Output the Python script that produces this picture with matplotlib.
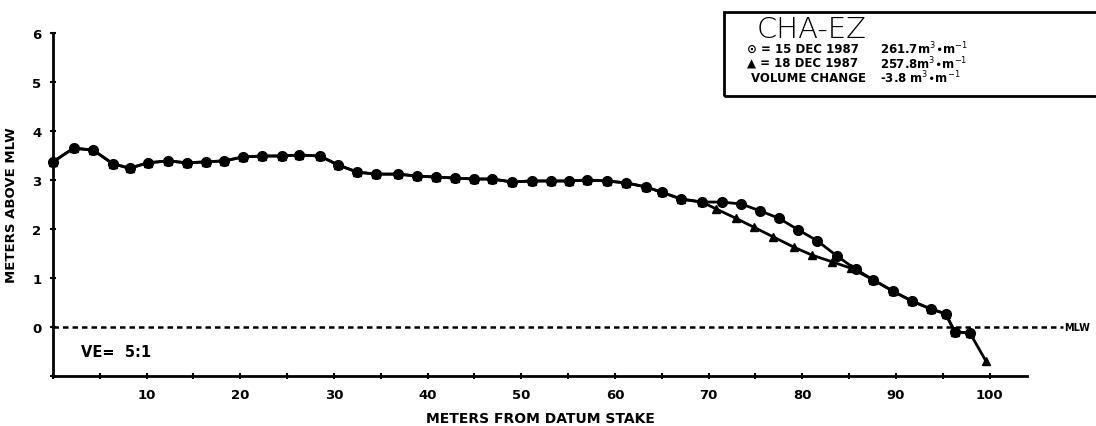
import matplotlib
matplotlib.use("Agg")
import matplotlib.pyplot as plt
from matplotlib.ticker import MultipleLocator
from matplotlib.patches import Rectangle

# Beach profile CHA-EZ, survey of 15 DEC 1987 (circles)
dist_15 = [0.0, 2.2, 4.3, 6.4, 8.2, 10.1, 12.3, 14.3, 16.3, 18.3, 20.3, 22.3,
           24.4, 26.3, 28.5, 30.4, 32.5, 34.5, 36.8, 38.9, 40.9, 42.9, 45.0,
           46.9, 49.0, 51.1, 53.2, 55.1, 57.0, 59.2, 61.2, 63.3, 65.0, 67.1,
           69.3, 71.4, 73.5, 75.5, 77.5, 79.6, 81.6, 83.7, 85.7, 87.6, 89.7,
           91.7, 93.7, 95.3, 96.3, 97.9]
elev_15 = [3.37, 3.65, 3.61, 3.33, 3.24, 3.35, 3.39, 3.35, 3.37, 3.39, 3.47,
           3.49, 3.49, 3.51, 3.49, 3.31, 3.16, 3.12, 3.12, 3.08, 3.06, 3.04,
           3.02, 3.02, 2.96, 2.98, 2.98, 2.98, 3.00, 2.98, 2.94, 2.86, 2.75,
           2.61, 2.55, 2.55, 2.51, 2.37, 2.22, 1.98, 1.76, 1.45, 1.18, 0.96,
           0.73, 0.53, 0.37, 0.27, -0.10, -0.12]

# Survey of 18 DEC 1987 (triangles)
dist_18 = [0.0, 2.2, 4.3, 6.4, 8.2, 10.1, 12.3, 14.3, 16.3, 18.3, 20.3, 22.3,
           24.4, 26.3, 28.5, 30.4, 32.5, 34.5, 36.8, 38.9, 40.9, 42.9, 45.0,
           46.9, 49.0, 51.1, 53.2, 55.1, 57.0, 59.2, 61.2, 63.3, 65.0, 67.1,
           69.3, 70.8, 72.9, 74.8, 76.9, 79.1, 81.0, 83.2, 85.2, 87.6, 89.7,
           91.7, 93.7, 95.3, 96.3, 97.9, 99.6]
elev_18 = [3.37, 3.65, 3.61, 3.33, 3.24, 3.35, 3.39, 3.35, 3.37, 3.39, 3.47,
           3.49, 3.49, 3.51, 3.49, 3.31, 3.16, 3.12, 3.12, 3.08, 3.06, 3.04,
           3.02, 3.02, 2.96, 2.98, 2.98, 2.98, 3.00, 2.98, 2.94, 2.86, 2.75,
           2.61, 2.55, 2.41, 2.22, 2.04, 1.84, 1.63, 1.47, 1.33, 1.20, 0.96,
           0.73, 0.53, 0.37, 0.27, -0.10, -0.12, -0.69]

x_ticks = [10, 20, 30, 40, 50, 60, 70, 80, 90, 100]
y_ticks = [0, 1, 2, 3, 4, 5, 6]

title = "CHA-EZ"
legend_rows = [
    ("\u2299 = 15 DEC 1987", r"261.7m$^{3}$$\bullet$m$^{-1}$"),
    ("\u25B2 = 18 DEC 1987", r"257.8m$^{3}$$\bullet$m$^{-1}$"),
    ("VOLUME CHANGE", r"-3.8 m$^{3}$$\bullet$m$^{-1}$"),
]

bold = dict(family="DejaVu Sans", fontweight="bold")

fig = plt.figure(figsize=(10.96, 4.27), dpi=100)
ax = fig.add_axes([53 / 1096, 1 - 377 / 427, (1027 - 53) / 1096, (377 - 34) / 427])

ax.set_xlim(0, 104)
ax.set_ylim(-1, 6)

# mean low water reference line, running past the frame to its label
ax.plot([0, 107.8], [0, 0], color="black", lw=1.8, ls=(0, (2.2, 1.6)),
        clip_on=False, zorder=2)
ax.text(108.0, 0, "MLW", ha="left", va="center", fontsize=7, clip_on=False, **bold)

ax.plot(dist_18, elev_18, color="black", lw=2.0, marker="^", ms=6,
        markerfacecolor="black", clip_on=False, zorder=3)
ax.plot(dist_15, elev_15, color="black", lw=2.0, marker="o", ms=7,
        markerfacecolor="black", clip_on=False, zorder=4)

for side in ("top", "right"):
    ax.spines[side].set_visible(False)
for side in ("left", "bottom"):
    ax.spines[side].set_linewidth(2.0)

ax.set_xticks(x_ticks)
ax.set_yticks(y_ticks)
ax.xaxis.set_minor_locator(MultipleLocator(5))
ax.yaxis.set_minor_locator(MultipleLocator(1))
ax.tick_params(axis="both", which="both", direction="inout", length=5, width=1.5,
               labelsize=9.5, pad=6)
for lab in ax.get_xticklabels() + ax.get_yticklabels():
    lab.set_fontweight("bold")

ax.set_xlabel("METERS FROM DATUM STAKE", fontsize=10, labelpad=7, **bold)
ax.set_ylabel("METERS ABOVE MLW", fontsize=9.5, labelpad=10, **bold)

ax.text(3.0, -0.5, "VE=  5:1", fontsize=10.5, ha="left", va="center", **bold)

# survey annotation box
fig.add_artist(Rectangle((724 / 1096, 1 - 97 / 427), (1100 - 724) / 1096, 84 / 427,
                         transform=fig.transFigure, fill=False, lw=2.0,
                         edgecolor="black", clip_on=False))
fig.text(757 / 1096, 1 - 38 / 427, title, fontsize=21, ha="left", va="baseline",
         family="DejaVu Sans", fontweight="light")
for i, (left, right) in enumerate(legend_rows):
    yc = 1 - (49 + 14.5 * i) / 427
    fig.text((747 if i < 2 else 751) / 1096, yc, left, fontsize=8.5, ha="left",
             va="center", **bold)
    fig.text(880 / 1096, yc, right, fontsize=8.5, ha="left", va="center", **bold)

fig.savefig("out.png", dpi=100, facecolor="white")
